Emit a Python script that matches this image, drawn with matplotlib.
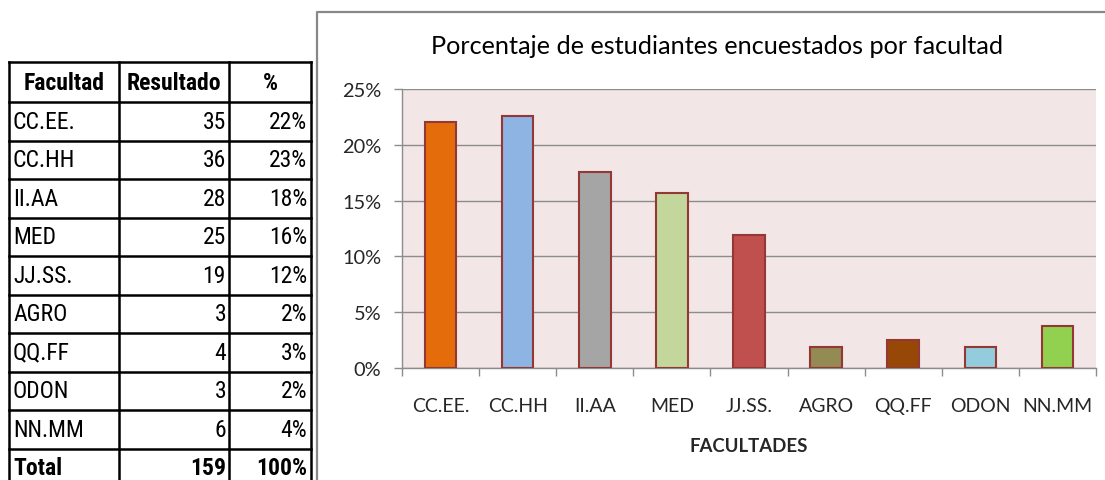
import matplotlib
matplotlib.use("Agg")
import matplotlib.pyplot as plt
from matplotlib import font_manager
from matplotlib.ticker import FixedLocator, FuncFormatter
import numpy as np

# ---- data ----
facultades = ["CC.EE.", "CC.HH", "II.AA", "MED", "JJ.SS.", "AGRO", "QQ.FF", "ODON", "NN.MM"]
resultados = [35, 36, 28, 25, 19, 3, 4, 3, 6]
pct_labels = ["22%", "23%", "18%", "16%", "12%", "2%", "3%", "2%", "4%"]
total_resultado = 159
total_pct = "100%"
porcentajes = [22.0, 22.6, 17.6, 15.7, 11.9, 1.9, 2.5, 1.9, 3.8]
bar_colors = ["#E46C0A", "#8DB4E2", "#A5A5A5", "#C3D69B", "#C0504D",
              "#948A54", "#974806", "#93CDDD", "#92D050"]
yticks = [0, 5, 10, 15, 20, 25]
header = ["Facultad", "Resultado", "%"]
title = "Porcentaje de estudiantes encuestados por facultad"
xlabel = "FACULTADES"

W, H = 1105, 481
fig = plt.figure(figsize=(W / 100, H / 100), dpi=100)
fig.patch.set_facecolor("white")

chart_font = ["Lato", "DejaVu Sans"]
names = {f.name for f in font_manager.fontManager.ttflist}
cands = [n for n in ["Liberation Sans Narrow", "DejaVu Sans Condensed",
                     "Roboto Condensed", "Open Sans Condensed", "Noto Sans Condensed"]
         if n in names]
table_font = cands + ["DejaVu Sans"]
condensed_dejavu = any(f.name == "DejaVu Sans" and "ondensed" in f.fname
                       for f in font_manager.fontManager.ttflist)

# ---- overlay axes in pixel coordinates (table + chart frame) ----
ov = fig.add_axes([0, 0, 1, 1])
ov.set_xlim(0, W)
ov.set_ylim(H, 0)
ov.axis("off")

# chart frame
ov.plot([317, 317, W], [H, 13, 13], color="#888888", lw=1.6, solid_capstyle="butt")

# table grid
col_x = [9, 119, 229, 311]
row_y = [63, 103] + [103 + 38.5 * (k + 1) for k in range(10)]
for y in row_y:
    ov.plot([col_x[0], col_x[-1]], [y, y], color="black", lw=1.8, solid_capstyle="projecting")
for x in col_x:
    ov.plot([x, x], [row_y[0], H + 10], color="black", lw=1.8)

fs_tab = 17 if cands else 14.5
stretch = "condensed"
# header
for i, h in enumerate(header):
    cx = (col_x[i] + col_x[i + 1]) / 2
    ov.text(cx, (row_y[0] + row_y[1]) / 2, h, ha="center", va="center",
            fontsize=fs_tab, fontweight="bold", family=table_font,
            fontstretch=stretch, color="black")
# rows
rows = list(zip(facultades, [str(r) for r in resultados], pct_labels))
rows.append(("Total", str(total_resultado), total_pct))
for k, (f, r, p) in enumerate(rows):
    yc = (row_y[k + 1] + row_y[k + 2]) / 2
    wt = "bold" if f == "Total" else "normal"
    for xx, s, ha in [(col_x[0] + 4, f, "left"), (col_x[2] - 3, r, "right"),
                      (col_x[3] - 4, p, "right")]:
        ov.text(xx, yc, s, ha=ha, va="center", fontsize=fs_tab, fontweight=wt,
                family=table_font, fontstretch=stretch, color="black")

# ---- bar chart ----
left, right, top, bottom = 402, 1096, 90, 369
ax = fig.add_axes([left / W, (H - bottom) / H, (right - left) / W, (bottom - top) / H])
ax.set_facecolor("#F2E6E6")
x = np.arange(len(facultades))
ax.bar(x, porcentajes, width=0.41, color=bar_colors, edgecolor="#953735",
       linewidth=1.5, zorder=3)
ax.set_xlim(-0.5, len(facultades) - 0.5)
ax.set_ylim(0, 25)

ax.yaxis.set_major_locator(FixedLocator(yticks))
ax.yaxis.set_major_formatter(FuncFormatter(lambda v, p: f"{int(v)}%"))
ax.grid(axis="y", color="#8C8C8C", lw=1.0, zorder=1)
ax.set_axisbelow(True)

ax.xaxis.set_major_locator(FixedLocator(np.arange(len(facultades) + 1) - 0.5))
ax.xaxis.set_major_formatter(FuncFormatter(lambda v, p: ""))
ax.xaxis.set_minor_locator(FixedLocator(x))
ax.set_xticklabels(facultades, minor=True)
ax.tick_params(axis="x", which="minor", length=0, pad=21, labelsize=14,
               labelcolor="#262626")
ax.tick_params(axis="x", which="major", length=5.5, color="#8C8C8C", width=1.0)
ax.tick_params(axis="y", length=5.8, color="#8C8C8C", width=1.0, pad=9,
               labelsize=14.4, labelcolor="#262626")
for lab in ax.get_xticklabels(minor=True) + ax.get_yticklabels():
    lab.set_family(chart_font)

for s in ["top", "right"]:
    ax.spines[s].set_visible(False)
ax.spines["left"].set_color("#8C8C8C")
ax.spines["bottom"].set_color("#8C8C8C")
ax.spines["left"].set_linewidth(1.0)
ax.spines["bottom"].set_linewidth(1.0)

fig.text(717.5 / W, 1 - 46 / H, title, ha="center", va="center",
         fontsize=18.2, family=chart_font, color="black")
fig.text(748.5 / W, 1 - 447 / H, xlabel, ha="center", va="center",
         fontsize=13.4, fontweight="bold", family=chart_font, color="#262626")

fig.savefig("out.png", dpi=100)
